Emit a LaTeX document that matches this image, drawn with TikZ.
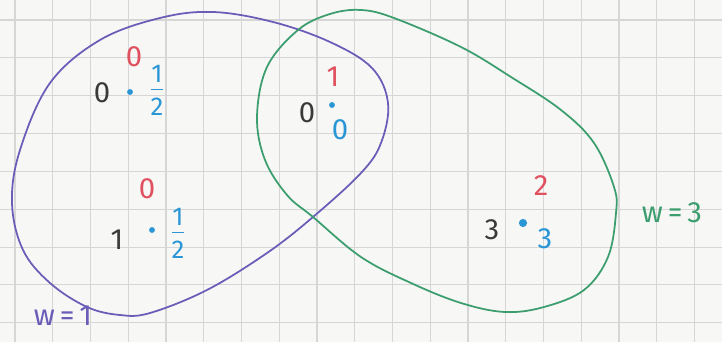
\documentclass[tikz,border=0pt]{standalone}
\usepackage{fontspec}
\setmainfont{Fira Sans}
\definecolor{paper}{HTML}{F7F7F6}
\definecolor{gridc}{HTML}{D6D6D6}
\definecolor{purp}{HTML}{6A5DB8}
\definecolor{grn}{HTML}{3C9E6E}
\definecolor{redc}{HTML}{E0505E}
\definecolor{bluc}{HTML}{2A96D6}
\definecolor{inkc}{HTML}{3A3A3A}
\begin{document}
\begin{tikzpicture}[x=0.03cm,y=-0.03cm,
  lbl/.style={inner sep=0pt,font=\fontsize{25}{27}\selectfont},
  blk/.style={lbl,text=inkc},
  rd/.style={lbl,text=redc},
  bl/.style={lbl,text=bluc},
  frc/.style={inner sep=0pt,text=bluc,align=center,font=\fontsize{22}{22}\selectfont},
  pt/.style={circle,fill=bluc,inner sep=0pt,minimum size=5pt},
  curve/.style={line width=1.5pt}]
\fill[paper] (0,0) rectangle (722,342);
\useasboundingbox (0,0) rectangle (722,342);
\foreach \i in {0,...,18} \draw[gridc,line width=0.9pt] ({15+37.75*\i},0) -- ({15+37.75*\i},342);
\foreach \j in {0,...,8} \draw[gridc,line width=0.9pt] (0,{20+37.85*\j}) -- (722,{20+37.85*\j});
% purple set
\draw[curve,purp] plot[smooth cycle,tension=0.6] coordinates {
 (213,12) (273,22) (330,42) (372,68) (388,103) (381,143) (361,173) (313,217)
 (267,253) (207,290) (150,313) (120,315) (87,307) (50,283) (23,250) (12,203)
 (20,150) (50,83) (100,40) (160,18)};
% green set
\draw[curve,grn] plot[smooth cycle,tension=0.6] coordinates {
 (361,10) (394,18) (461,47) (511,77) (561,110) (594,143) (614,187) (616,213)
 (608,257) (584,290) (544,307) (505,312) (461,303) (411,283) (361,257) (313,217)
 (287,195) (265,160) (257,117) (267,67) (298,30) (330,14)};
% point A
\node[pt] (pa) at (130,92) {};
\node[blk] (ka) at (102,93) {0};
\node[rd] (ra) at (134,57) {0};
\node[frc] (fa) at (157,90) {1\\[-15pt]\rule{11pt}{0.9pt}\\[-1pt]2};
% point B
\node[pt] (pb) at (152,230) {};
\node[blk] (kb) at (117,240) {1};
\node[rd] (rb) at (147,189) {0};
\node[frc] (fb) at (178,233) {1\\[-15pt]\rule{11pt}{0.9pt}\\[-1pt]2};
% point C
\node[pt] (pc) at (332,105) {};
\node[blk] (kc) at (307,113) {0};
\node[rd] (rc) at (333,77) {1};
\node[bl] (bc) at (340,130) {0};
% point D
\node[pt,minimum size=7pt] (pd) at (523,223) {};
\node[blk] (kd) at (492,230) {3};
\node[rd] (rdd) at (541,186) {2};
\node[bl] (bd) at (545,239) {3};
% weights
\node[lbl,text=grn] (wg) at (672,213) {w\,=\,3};
\node[lbl,text=purp] (wp) at (63,316) {w\,=\,1};
\end{tikzpicture}
\end{document}
